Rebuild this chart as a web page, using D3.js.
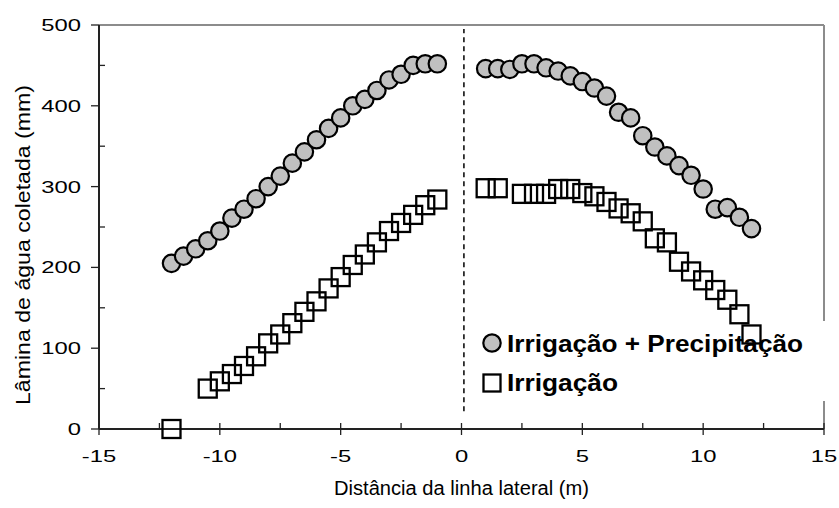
<!DOCTYPE html>
<html>
<head>
<meta charset="utf-8">
<script src="https://cdn.jsdelivr.net/npm/d3@7"></script>
<style>
  html, body { margin: 0; padding: 0; background: #fff; }
  svg { display: block; font-family: Arial, "Liberation Sans", sans-serif; }
</style>
</head>
<body>
<svg id="chart" width="839" height="508"></svg>
<script>
// Distance from the lateral line (m), left and right of the line
const xLeft  = [-12, -11.5, -11, -10.5, -10, -9.5, -9, -8.5, -8, -7.5, -7, -6.5, -6, -5.5, -5, -4.5, -4, -3.5, -3, -2.5, -2, -1.5, -1];
const xRight = [1, 1.5, 2, 2.5, 3, 3.5, 4, 4.5, 5, 5.5, 6, 6.5, 7, 7.5, 8, 8.5, 9, 9.5, 10, 10.5, 11, 11.5, 12];

// Irrigação + Precipitação (mm)
const totalLeft  = [205, 214, 223, 233, 245, 261, 272, 285, 300, 313, 329, 343, 358, 372, 385, 400, 408, 419, 432, 439, 450, 452, 452];
const totalRight = [446, 446, 445, 452, 452, 447, 443, 437, 430, 422, 412, 392, 385, 363, 349, 338, 326, 314, 297, 272, 274, 262, 248];

// Irrigação (mm)
const irrX = [-12, -10.5, -10, -9.5, -9, -8.5, -8, -7.5, -7, -6.5, -6, -5.5, -5, -4.5, -4, -3.5, -3, -2.5, -2, -1.5, -1,
              1, 1.5, 2.5, 3, 3.5, 4, 4.5, 5, 5.5, 6, 6.5, 7, 7.5, 8, 8.5, 9, 9.5, 10, 10.5, 11, 11.5, 12];
const irrY = [0, 50, 59, 68, 78, 90, 106, 117, 131, 145, 158, 174, 188, 203, 216, 231, 245, 255, 265, 277, 284,
              298, 298, 291, 291, 291, 297, 297, 292, 288, 281, 273, 267, 257, 236, 231, 207, 195, 184, 172, 160, 142, 117];

// Lateral line position
const lineX = 0.1;
const lineY = [22, 495];

const xTicks = [-15, -10, -5, 0, 5, 10, 15];
const xMinor = [-12.5, -7.5, -2.5, 2.5, 7.5, 12.5];
const yTicks = [0, 100, 200, 300, 400, 500];
const yMinor = [50, 150, 250, 350, 450];

const seriesNames = ["Irrigação + Precipitação", "Irrigação"];
const xTitle = "Distância da linha lateral (m)";
const yTitle = "Lâmina de água coletada (mm)";

const svg = d3.select("#chart");
const x = d3.scaleLinear().domain([-15, 15]).range([99, 824]);
const y = d3.scaleLinear().domain([0, 500]).range([429, 25]);

const axisColor = "#222";
const frameColor = "#8c8c8c";

// Frame: top and right edges in grey
svg.append("line").attr("x1", x(-15)).attr("x2", x(15)).attr("y1", y(500)).attr("y2", y(500))
  .attr("stroke", frameColor).attr("stroke-width", 2);
svg.append("line").attr("x1", x(15)).attr("x2", x(15)).attr("y1", y(500)).attr("y2", y(0))
  .attr("stroke", frameColor).attr("stroke-width", 2);

// Legend background hides the frame behind it
svg.append("rect").attr("x", 476).attr("y", 321).attr("width", 360).attr("height", 80).attr("fill", "#fff");

// Left axis
svg.append("line").attr("x1", x(-15)).attr("x2", x(-15)).attr("y1", y(500)).attr("y2", y(0))
  .attr("stroke", axisColor).attr("stroke-width", 2);
svg.selectAll(".ytick").data(yTicks).join("line")
  .attr("x1", x(-15) - 8).attr("x2", x(-15)).attr("y1", d => y(d)).attr("y2", d => y(d))
  .attr("stroke", axisColor).attr("stroke-width", 1.3);
svg.selectAll(".yminor").data(yMinor).join("line")
  .attr("x1", x(-15)).attr("x2", x(-15) + 6).attr("y1", d => y(d)).attr("y2", d => y(d))
  .attr("stroke", axisColor).attr("stroke-width", 1.3);
svg.selectAll(".ylab").data(yTicks).join("g")
  .attr("transform", d => `translate(81,${y(d) + 6}) scale(1.4,1)`)
  .append("text").attr("text-anchor", "end").attr("font-size", 17).attr("fill", "#000")
  .text(d => d);

// Bottom axis
svg.append("line").attr("x1", x(-15)).attr("x2", x(15)).attr("y1", y(0)).attr("y2", y(0))
  .attr("stroke", axisColor).attr("stroke-width", 2);
svg.selectAll(".xtick").data(xTicks).join("line")
  .attr("x1", d => x(d)).attr("x2", d => x(d)).attr("y1", y(0) - 6).attr("y2", y(0) + 6)
  .attr("stroke", axisColor).attr("stroke-width", 1.3);
svg.selectAll(".xminor").data(xMinor).join("line")
  .attr("x1", d => x(d)).attr("x2", d => x(d)).attr("y1", y(0) - 6).attr("y2", y(0))
  .attr("stroke", axisColor).attr("stroke-width", 1.3);
svg.selectAll(".xlab").data(xTicks).join("g")
  .attr("transform", d => `translate(${x(d)},${y(0) + 33}) scale(1.4,1)`)
  .append("text").attr("text-anchor", "middle").attr("font-size", 17).attr("fill", "#000")
  .text(d => d);

// Axis titles
svg.append("text").attr("x", x(0)).attr("y", 495).attr("text-anchor", "middle")
  .attr("font-size", 20).attr("textLength", 255).attr("lengthAdjust", "spacingAndGlyphs")
  .text(xTitle);
svg.append("text").attr("transform", "translate(30,245) rotate(-90)").attr("text-anchor", "middle")
  .attr("font-size", 21).attr("textLength", 320).attr("lengthAdjust", "spacingAndGlyphs")
  .text(yTitle);

// Dashed lateral line
svg.append("line").attr("x1", x(lineX)).attr("x2", x(lineX)).attr("y1", y(lineY[0])).attr("y2", y(lineY[1]))
  .attr("stroke", "#000").attr("stroke-width", 1.5).attr("stroke-dasharray", "5,4");

// Irrigação: open squares
const sq = 18;
svg.append("g").selectAll("rect").data(d3.zip(irrX, irrY)).join("rect")
  .attr("x", d => x(d[0]) - sq / 2).attr("y", d => y(d[1]) - sq / 2)
  .attr("width", sq).attr("height", sq)
  .attr("fill", "none").attr("stroke", "#000").attr("stroke-width", 2.3);

// Irrigação + Precipitação: grey circles
const totals = d3.zip(xLeft, totalLeft).concat(d3.zip(xRight, totalRight));
svg.append("g").selectAll("circle").data(totals).join("circle")
  .attr("cx", d => x(d[0])).attr("cy", d => y(d[1])).attr("r", 8.7)
  .attr("fill", "#c0c0c0").attr("stroke", "#000").attr("stroke-width", 2.2);

// Legend
const leg = svg.append("g");
leg.append("circle").attr("cx", 492).attr("cy", 343).attr("r", 8.7)
  .attr("fill", "#c0c0c0").attr("stroke", "#000").attr("stroke-width", 2.2);
leg.append("rect").attr("x", 492 - 8.5).attr("y", 383 - 8.5).attr("width", 17).attr("height", 17)
  .attr("fill", "none").attr("stroke", "#000").attr("stroke-width", 2.3);
leg.append("text").attr("x", 507).attr("y", 352).attr("font-size", 23).attr("font-weight", "bold")
  .attr("textLength", 296).attr("lengthAdjust", "spacingAndGlyphs").text(seriesNames[0]);
leg.append("text").attr("x", 507).attr("y", 391).attr("font-size", 23).attr("font-weight", "bold")
  .attr("textLength", 111).attr("lengthAdjust", "spacingAndGlyphs").text(seriesNames[1]);
</script>
</body>
</html>
